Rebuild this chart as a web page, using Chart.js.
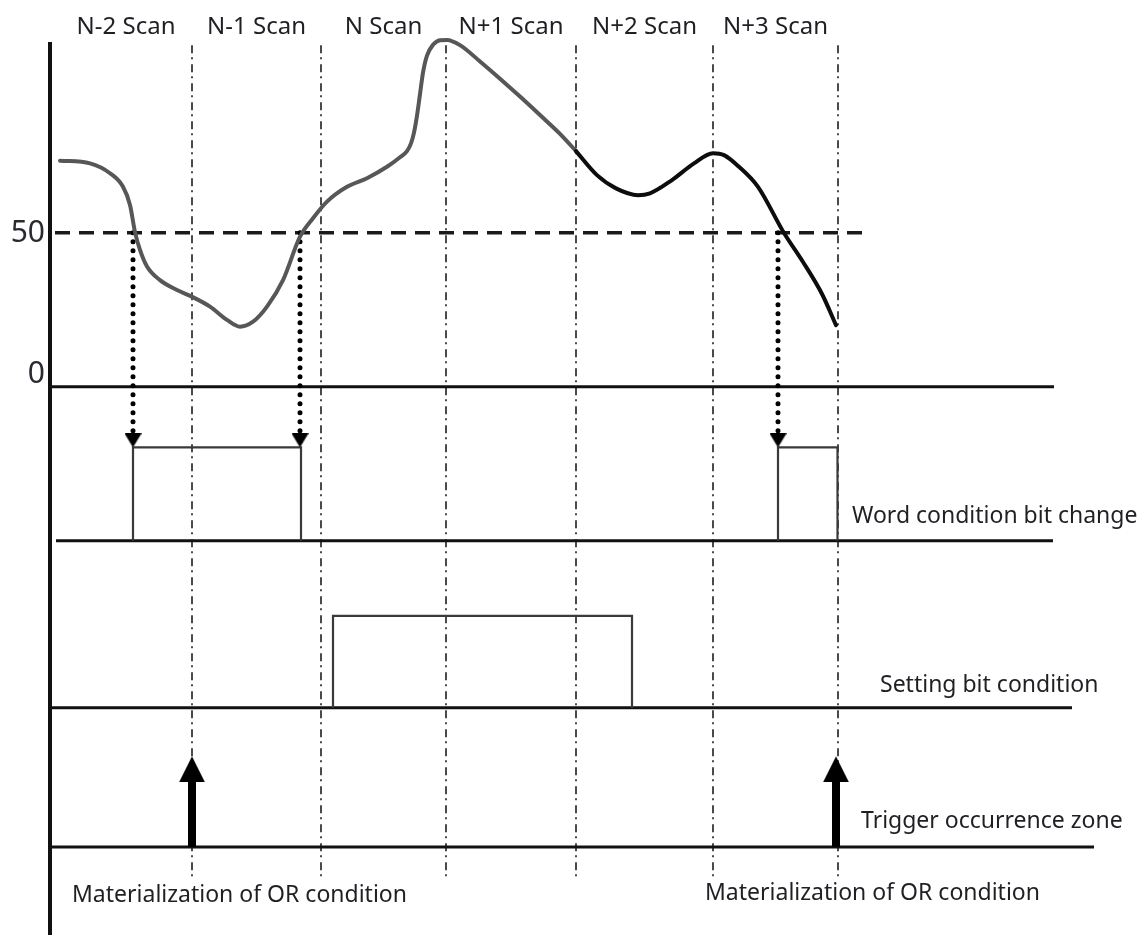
<!DOCTYPE html>
<html>
<head>
<meta charset="utf-8">
<script src="https://cdn.jsdelivr.net/npm/chart.js@4/dist/chart.umd.min.js"></script>
<style>
html,body{margin:0;padding:0;background:#fff;}
canvas{display:block;}
</style>
</head>
<body>
<canvas id="c" width="1144" height="935"></canvas>
<script>
// ---------- DATA ----------
const scanLabels = ['N-2 Scan', 'N-1 Scan', 'N Scan', 'N+1 Scan', 'N+2 Scan', 'N+3 Scan'];
const scanEdges = [60, 192, 321, 446, 576, 713, 838];      // time of scan boundaries
const valueTicks = [0, 50];
const threshold = 50;

// analog word value, first part (grey) and last part (black)
const curveTimeA = [60, 90, 110, 123, 130, 135, 140, 147, 160, 177, 192, 210, 227, 240, 253, 267, 283, 300, 313, 327, 347, 367, 387, 400, 407, 411, 414, 417, 420, 423, 427, 433, 440, 447, 460, 480, 500, 520, 540, 560, 576];
const curveValueA = [73.4, 72.5, 69.3, 64.9, 59.0, 50.2, 44.4, 39.0, 34.6, 31.4, 29.2, 26.0, 21.7, 19.5, 21.1, 26.0, 34.6, 48.7, 54.7, 60.1, 64.9, 67.7, 71.4, 74.5, 76.5, 79.0, 82.5, 88.0, 95.0, 102.0, 107.5, 111.0, 112.5, 112.6, 110.9, 105.6, 100.0, 94.2, 88.2, 82.1, 76.5];
const curveTimeB = [576, 597, 616, 638, 650, 672, 694, 713, 724, 739, 758, 784, 803, 822, 836];
const curveValueB = [76.5, 68.7, 64.4, 62.2, 62.8, 67.1, 72.5, 75.8, 75.2, 71.4, 64.9, 49.9, 40.5, 30.1, 20.0];

// threshold crossings (dotted arrows) and digital rows
const crossTimes = [133, 300, 778];
const wordPulseStart = [133, 778];
const wordPulseEnd = [301, 837.5];
const settingPulseStart = [333];
const settingPulseEnd = [632];
const triggerTimes = [192, 836];

// row levels (diagram units, same scale as value axis)
const wordLow = -50.0, wordHigh = -19.7;
const settingLow = -104.2, settingHigh = -74.4;
const triggerLow = -149.4, triggerTip = -120.0;

// ---------- LAYOUT ----------
const X_MIN = 0, X_MAX = 1144, Y_MIN = -178.0, Y_MAX = 125.55;
const PX = 935 / (Y_MAX - Y_MIN);   // px per value unit
const FONT = '"Noto Sans", "DejaVu Sans", sans-serif';

function arrowImage(w, h, dir) {   // tip sits at image centre
  const c = document.createElement('canvas');
  c.width = w; c.height = h * 2;
  const g = c.getContext('2d');
  g.fillStyle = '#000';
  g.beginPath();
  if (dir === 'down') { g.moveTo(0, 0); g.lineTo(w, 0); g.lineTo(w / 2, h); }
  else { g.moveTo(w / 2, h); g.lineTo(w, 2 * h); g.lineTo(0, 2 * h); }
  g.closePath(); g.fill();
  return c;
}
const headDown = arrowImage(17, 14, 'down');
const headUp = arrowImage(26, 26, 'up');

const pts = (xs, ys) => xs.map((x, i) => ({x, y: ys[i]}));
const line = (data, extra) => Object.assign({
  data, showLine: true, pointRadius: 0, borderColor: '#111', borderWidth: 3,
  fill: false, tension: 0, borderJoinStyle: 'miter'
}, extra);

const datasets = [];

// scan boundary dash-dot lines
scanEdges.slice(1).forEach(e => {
  datasets.push(line([{x: e, y: 110.9}, {x: e, y: -159.2}],
    {borderColor: '#4a4a4a', borderWidth: 2, borderDash: [8, 4, 2, 5], order: 20}));
});

// vertical axis
datasets.push(line([{x: 50, y: 111.9}, {x: 50, y: Y_MIN}], {borderWidth: 4, order: 10}));

// baselines
datasets.push(line([{x: 52, y: 0}, {x: 1054, y: 0}], {borderWidth: 3, order: 10}));
datasets.push(line([{x: 56, y: wordLow}, {x: 1053, y: wordLow}], {borderWidth: 3, order: 10}));
datasets.push(line([{x: 52, y: settingLow}, {x: 1072, y: settingLow}], {borderWidth: 3, order: 10}));
datasets.push(line([{x: 52, y: triggerLow}, {x: 1094, y: triggerLow}], {borderWidth: 3, order: 10}));

// threshold dashed line
datasets.push(line([{x: 55, y: threshold}, {x: 862, y: threshold}],
  {borderColor: '#1a1a1a', borderWidth: 3.5, borderDash: [15, 9], order: 9}));

// word condition pulses
wordPulseStart.forEach((s, i) => {
  const e = wordPulseEnd[i];
  datasets.push(line([{x: s, y: wordLow}, {x: s, y: wordHigh}, {x: e, y: wordHigh}, {x: e, y: wordLow}],
    {borderColor: '#3a3a3a', borderWidth: 2.2, order: 8}));
});
// setting bit pulses
settingPulseStart.forEach((s, i) => {
  const e = settingPulseEnd[i];
  datasets.push(line([{x: s, y: settingLow}, {x: s, y: settingHigh}, {x: e, y: settingHigh}, {x: e, y: settingLow}],
    {borderColor: '#3a3a3a', borderWidth: 2.2, order: 8}));
});

// dotted arrows from threshold crossings
crossTimes.forEach(t => {
  datasets.push(line([{x: t, y: threshold}, {x: t, y: wordHigh + 13 / PX}],
    {borderWidth: 5, borderDash: [0, 9], borderCapStyle: 'round', borderColor: '#000', order: 5}));
  datasets.push({data: [{x: t, y: wordHigh}], showLine: false, pointStyle: headDown,
    pointRadius: 10, order: 4});
});

// curve
datasets.push(line(pts(curveTimeA, curveValueA),
  {borderColor: '#575757', borderWidth: 4, cubicInterpolationMode: 'monotone', borderCapStyle: 'round', borderJoinStyle: 'round', order: 3}));
datasets.push(line(pts(curveTimeB, curveValueB),
  {borderColor: '#0d0d0d', borderWidth: 4, cubicInterpolationMode: 'monotone', borderCapStyle: 'round', borderJoinStyle: 'round', order: 2}));

// trigger arrows
triggerTimes.forEach(t => {
  datasets.push(line([{x: t, y: triggerLow}, {x: t, y: triggerTip - 20 / PX}],
    {borderWidth: 8, borderColor: '#000', borderCapStyle: 'butt', order: 1}));
  datasets.push({data: [{x: t, y: triggerTip}], showLine: false, pointStyle: headUp,
    pointRadius: 13, order: 0});
});

const texts = [
  {t: 'Word condition bit change', x: 852, y: -44.4},
  {t: 'Setting bit condition', x: 880, y: -99.0},
  {t: 'Trigger occurrence zone', x: 861, y: -143.4},
  {t: 'Materialization of OR condition', x: 72, y: -167.2},
  {t: 'Materialization of OR condition', x: 705, y: -166.6}
];

const textPlugin = {
  id: 'texts',
  afterDatasetsDraw(chart) {
    const {ctx, scales: {x, y}} = chart;
    ctx.save();
    ctx.fillStyle = '#1f1f24';
    ctx.textBaseline = 'alphabetic';
    // scan labels
    ctx.font = '24px ' + FONT;
    ctx.textAlign = 'center';
    scanLabels.forEach((s, i) => {
      const cx = x.getPixelForValue((scanEdges[i] + scanEdges[i + 1]) / 2);
      ctx.fillText(s, cx, y.getPixelForValue(114.5));
    });
    // value ticks
    ctx.font = '30px ' + FONT;
    ctx.textAlign = 'right';
    ctx.fillStyle = '#2a2a33';
    valueTicks.forEach(v => {
      const py = y.getPixelForValue(v) + (v === 0 ? -3.4 : 9.6);
      ctx.fillText(String(v), x.getPixelForValue(45), py);
    });
    // row labels
    ctx.fillStyle = '#1f1f24';
    ctx.font = '23px ' + FONT;
    ctx.textAlign = 'left';
    texts.forEach(o => ctx.fillText(o.t, x.getPixelForValue(o.x), y.getPixelForValue(o.y)));
    ctx.restore();
  }
};

new Chart(document.getElementById('c'), {
  type: 'scatter',
  data: {datasets},
  options: {
    responsive: false,
    animation: false,
    devicePixelRatio: 1,
    events: [],
    layout: {padding: 0, autoPadding: false},
    plugins: {legend: {display: false}, tooltip: {enabled: false}},
    scales: {
      x: {type: 'linear', min: X_MIN, max: X_MAX, display: false},
      y: {type: 'linear', min: Y_MIN, max: Y_MAX, display: false}
    }
  },
  plugins: [textPlugin]
});
</script>
</body>
</html>
